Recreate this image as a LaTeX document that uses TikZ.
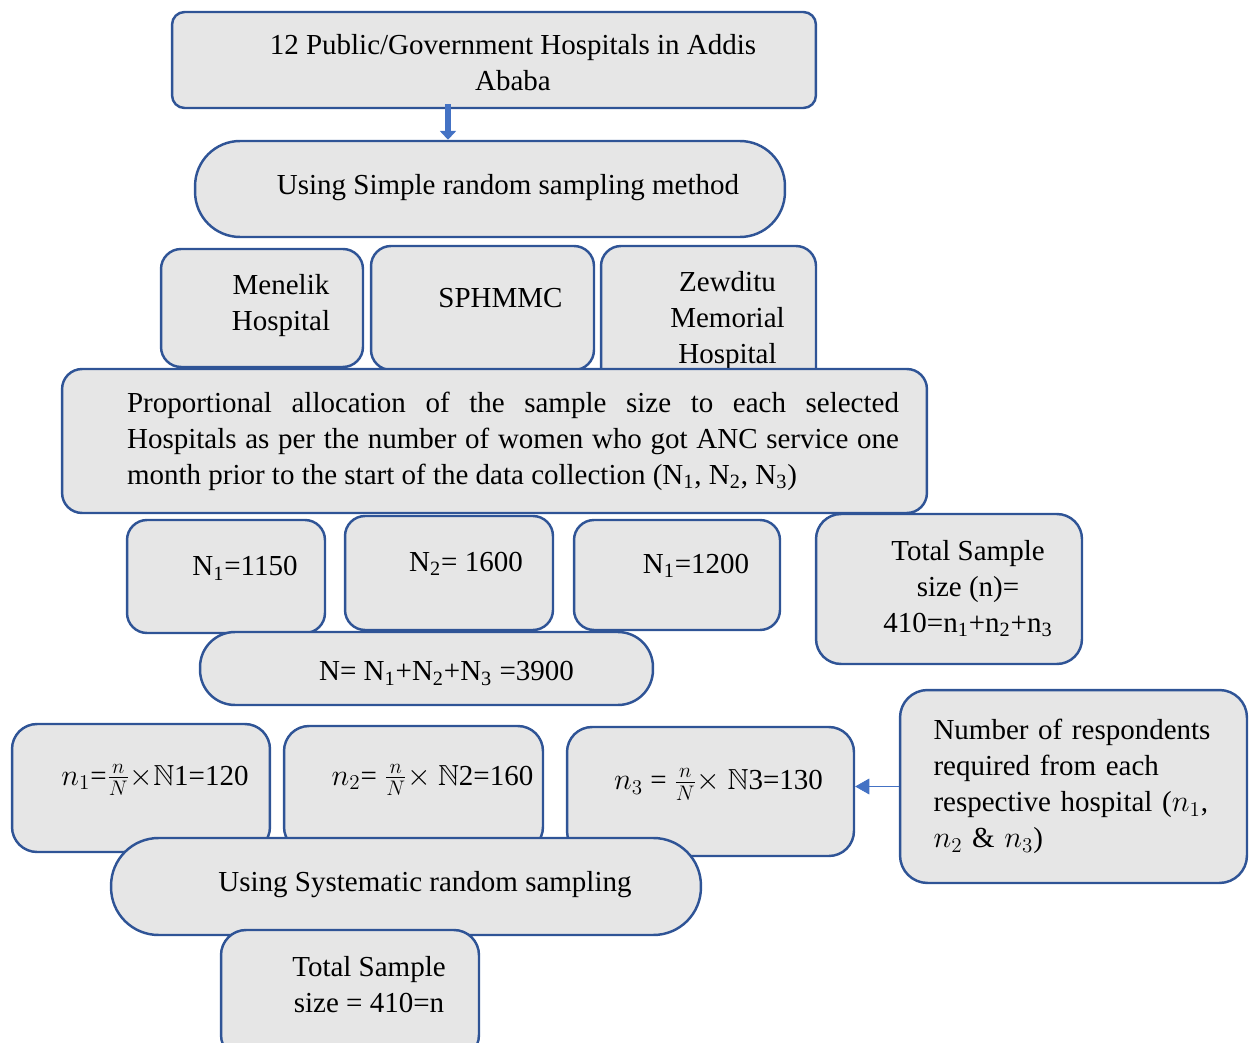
\documentclass[tikz,border=0pt]{standalone}
\usepackage{amsmath, amssymb}
\usepackage{fontspec}
\setmainfont{Liberation Serif}
\usetikzlibrary{arrows.meta, positioning}

\definecolor{edgeblue}{HTML}{2F5496}
\definecolor{arrblue}{HTML}{4472C4}
\definecolor{boxgray}{HTML}{E6E6E6}

% text block inside a box: #1 extra left pad, #2 extra bottom pad
\newcommand{\btext}[3]{\begin{tabular}{@{\hspace{#1}}c@{}}#3\\[#2]\end{tabular}}

\begin{document}
\begin{tikzpicture}[
    x=0.02cm, y=-0.02cm,
    every node/.style={font=\fontsize{16.5}{20.5}\selectfont},
    box/.style={draw=edgeblue, line width=1.4pt, fill=boxgray, rounded corners=0.4cm, align=center, inner sep=2pt},
    pill/.style={box, rounded corners=0.9cm},
    arr/.style={-{Triangle[length=5pt, width=9pt]}, line width=3.5pt, draw=arrblue},
    thinarr/.style={-{Triangle[length=8pt, width=9pt]}, thin, draw=arrblue}
  ]
  \clip (0,0) rectangle (1254,1043);

  % selection track
  \node[box, rounded corners=0.25cm, minimum width=12.88cm, minimum height=1.92cm] (hosp) at (494,60)
    {\btext{0.76cm}{-0.2cm}{12 Public/Government Hospitals in Addis\\Ababa}};
  \node[pill, minimum width=11.8cm, minimum height=1.92cm] (srs) at (490,189)
    {\btext{0.72cm}{0.08cm}{Using Simple random sampling method}};

  % selected hospitals
  \node[box, minimum width=4.04cm, minimum height=2.36cm] (menelik) at (262,308)
    {\btext{0.76cm}{0.12cm}{Menelik\\Hospital}};
  \node[box, minimum width=4.46cm, minimum height=2.48cm] (sphmmc) at (482.5,308)
    {\btext{0.72cm}{0.32cm}{SPHMMC}};
  \node[box, minimum width=4.3cm, minimum height=2.88cm] (zewditu) at (708.5,318)
    {\btext{0.76cm}{-0.08cm}{Zewditu\\Memorial\\Hospital}};

  % allocation
  \node[box, minimum width=17.3cm, minimum height=2.88cm] (alloc) at (494.5,441)
    {\begin{tabular}{@{\hspace{0.74cm}}p{15.44cm}@{}}
     Proportional allocation of the sample size to each selected\linebreak
     Hospitals as per the number of women who got ANC service one\linebreak
     month prior to the start of the data collection (N\textsubscript{1}, N\textsubscript{2}, N\textsubscript{3})
     \end{tabular}};

  \node[box, minimum width=3.96cm, minimum height=2.26cm] (na) at (226,576.5)
    {\btext{0.76cm}{0.32cm}{N\textsubscript{1}=1150}};
  \node[box, minimum width=4.16cm, minimum height=2.28cm] (nb) at (449,573)
    {\btext{0.68cm}{0.36cm}{N\textsubscript{2}= 1600}};
  \node[box, minimum width=4.12cm, minimum height=2.2cm] (nc) at (677,575)
    {\btext{0.76cm}{0.36cm}{N\textsubscript{1}=1200}};
  \node[box, rounded corners=0.5cm, minimum width=5.32cm, minimum height=3.0cm] (total) at (949,589)
    {\btext{0.76cm}{0cm}{Total Sample\\size (n)=\\410=n\textsubscript{1}+n\textsubscript{2}+n\textsubscript{3}}};
  \node[pill, rounded corners=0.7cm, minimum width=9.06cm, minimum height=1.46cm] (bign) at (426.5,668.5)
    {\btext{0.8cm}{-0.2cm}{N= N\textsubscript{1}+N\textsubscript{2}+N\textsubscript{3} =3900}};

  % per hospital sample
  \node[box, rounded corners=0.5cm, minimum width=5.16cm, minimum height=2.56cm] (n1) at (141,788)
    {\btext{0.56cm}{0.4cm}{$n_1$=$\frac{n}{N}$$\times$$\mathbb{N}$1=120}};
  \node[box, rounded corners=0.5cm, minimum width=5.18cm, minimum height=2.52cm] (n2) at (413.5,789)
    {\btext{0.76cm}{0.44cm}{$n_2$= $\frac{n}{N}$$\times$ $\mathbb{N}$2=160}};
  \node[box, rounded corners=0.5cm, minimum width=5.74cm, minimum height=2.58cm] (n3) at (710.5,791.5)
    {\btext{0.32cm}{0.36cm}{$n_3$ = $\frac{n}{N}$$\times$ $\mathbb{N}$3=130}};
  \node[box, rounded corners=0.55cm, minimum width=6.94cm, minimum height=3.86cm, text width=5.6cm, align=left] (resp) at (1073.5,786.5)
    {Number of respondents required from each respective hospital ($n_1$, $n_2$ \& $n_3$)};

  % systematic sampling
  \node[pill, rounded corners=0.95cm, minimum width=11.8cm, minimum height=1.94cm] (sys) at (406,886.5)
    {\btext{0.76cm}{0.08cm}{Using Systematic random sampling}};
  \node[box, rounded corners=0.5cm, minimum width=5.16cm, minimum height=2.6cm] (totb) at (350,995)
    {\btext{0.76cm}{0.32cm}{Total Sample\\size = 410=n}};

  % arrows
  \coordinate (ax) at (448,0);
  \draw[arr] ([yshift=0.1cm]hosp.south -| ax) -- (srs.north -| ax);
  \draw[thinarr] (resp.west) -- (resp.west -| n3.east);
\end{tikzpicture}
\end{document}
